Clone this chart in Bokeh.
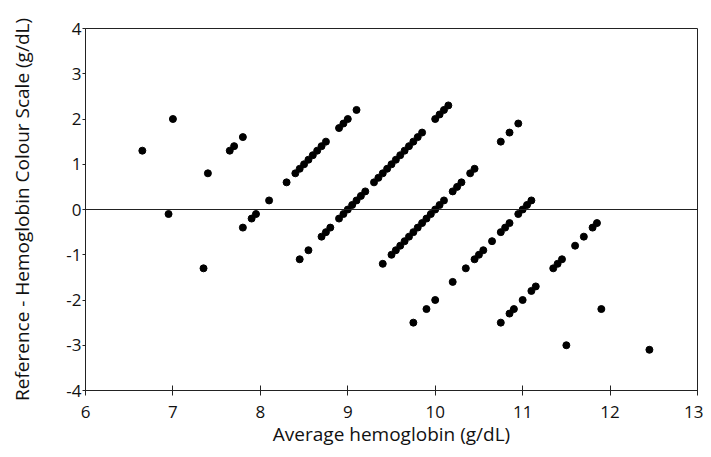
from bokeh.plotting import figure
from bokeh.models import Span, FixedTicker
from bokeh.embed import file_html
from bokeh.resources import INLINE

# Average hemoglobin (g/dL) and difference (Reference - HCS), grouped by HCS reading
avg_hcs6 = [6.65, 7.0]
diff_hcs6 = [1.3, 2.0]
avg_hcs7 = [6.95, 7.4, 7.65, 7.7, 7.8]
diff_hcs7 = [-0.1, 0.8, 1.3, 1.4, 1.6]
avg_hcs8 = [7.35, 7.8, 7.9, 7.95, 8.1, 8.3, 8.4, 8.45, 8.5, 8.55, 8.6, 8.65, 8.7, 8.75, 8.9, 8.95, 9.0, 9.1]
diff_hcs8 = [-1.3, -0.4, -0.2, -0.1, 0.2, 0.6, 0.8, 0.9, 1.0, 1.1, 1.2, 1.3, 1.4, 1.5, 1.8, 1.9, 2.0, 2.2]
avg_hcs9 = [8.45, 8.55, 8.7, 8.75, 8.8, 8.9, 8.95, 9.0, 9.05, 9.1, 9.15, 9.2, 9.3, 9.35, 9.4, 9.45,
            9.5, 9.55, 9.6, 9.65, 9.7, 9.75, 9.8, 9.85, 10.0, 10.05, 10.1, 10.15]
diff_hcs9 = [-1.1, -0.9, -0.6, -0.5, -0.4, -0.2, -0.1, 0.0, 0.1, 0.2, 0.3, 0.4, 0.6, 0.7, 0.8, 0.9,
             1.0, 1.1, 1.2, 1.3, 1.4, 1.5, 1.6, 1.7, 2.0, 2.1, 2.2, 2.3]
avg_hcs10 = [9.4, 9.5, 9.55, 9.6, 9.65, 9.7, 9.75, 9.8, 9.85, 9.9, 9.95, 10.0, 10.05, 10.1, 10.2,
             10.25, 10.3, 10.4, 10.45, 10.75, 10.85, 10.95]
diff_hcs10 = [-1.2, -1.0, -0.9, -0.8, -0.7, -0.6, -0.5, -0.4, -0.3, -0.2, -0.1, 0.0, 0.1, 0.2, 0.4,
              0.5, 0.6, 0.8, 0.9, 1.5, 1.7, 1.9]
avg_hcs11 = [9.75, 9.9, 10.0, 10.2, 10.35, 10.45, 10.5, 10.55, 10.65, 10.75, 10.8, 10.85, 10.95, 11.0, 11.05, 11.1]
diff_hcs11 = [-2.5, -2.2, -2.0, -1.6, -1.3, -1.1, -1.0, -0.9, -0.7, -0.5, -0.4, -0.3, -0.1, 0.0, 0.1, 0.2]
avg_hcs12 = [10.75, 10.85, 10.9, 11.0, 11.1, 11.15, 11.35, 11.4, 11.45, 11.6, 11.7, 11.8, 11.85]
diff_hcs12 = [-2.5, -2.3, -2.2, -2.0, -1.8, -1.7, -1.3, -1.2, -1.1, -0.8, -0.6, -0.4, -0.3]
avg_hcs13 = [11.5, 11.9]
diff_hcs13 = [-3.0, -2.2]
avg_hcs14 = [12.45]
diff_hcs14 = [-3.1]

x_ticks = [6, 7, 8, 9, 10, 11, 12, 13]
y_ticks = [-4, -3, -2, -1, 0, 1, 2, 3, 4]
y_tick_labels = ["-4", "-3", "-2", "-1", "0", "1", "2", "3", "4"]

avg_all = avg_hcs6 + avg_hcs7 + avg_hcs8 + avg_hcs9 + avg_hcs10 + avg_hcs11 + avg_hcs12 + avg_hcs13 + avg_hcs14
diff_all = diff_hcs6 + diff_hcs7 + diff_hcs8 + diff_hcs9 + diff_hcs10 + diff_hcs11 + diff_hcs12 + diff_hcs13 + diff_hcs14

FONT = "Open Sans"
AX = "#222222"
TXT = "#111111"

p = figure(width=703, height=449, x_range=(6, 13), y_range=(-4, 4),
           output_backend="svg", toolbar_location=None,
           min_border_left=85, min_border_right=6, min_border_top=28, min_border_bottom=59)

p.scatter(avg_all, diff_all, size=7, color="black", marker="circle")

p.add_layout(Span(location=0, dimension="width", line_color=AX, line_width=1))

p.xgrid.visible = False
p.ygrid.visible = False
p.outline_line_color = AX
p.outline_line_width = 1
p.background_fill_color = "white"
p.border_fill_color = "white"

p.xaxis.ticker = FixedTicker(ticks=x_ticks)
p.yaxis.ticker = FixedTicker(ticks=y_ticks)
p.yaxis.major_label_overrides = {t: lab for t, lab in zip(y_ticks, y_tick_labels)}
p.xaxis.minor_tick_line_color = None
p.yaxis.minor_tick_line_color = None

p.xaxis.major_tick_in = 5
p.xaxis.major_tick_out = 5
p.yaxis.major_tick_in = 0
p.yaxis.major_tick_out = 3

for ax in (p.xaxis, p.yaxis):
    ax.axis_line_color = AX
    ax.major_tick_line_color = AX
    ax.major_label_text_font = FONT
    ax.major_label_text_font_size = "17px"
    ax.major_label_text_color = TXT
    ax.axis_label_text_font = FONT
    ax.axis_label_text_font_size = "19px"
    ax.axis_label_text_font_style = "normal"
    ax.axis_label_text_color = TXT

p.xaxis.axis_label = "Average hemoglobin (g/dL)"
p.yaxis.axis_label = "Reference - Hemoglobin Colour Scale (g/dL)"
p.xaxis.major_label_standoff = 10
p.xaxis.axis_label_standoff = 0
p.yaxis.major_label_standoff = 1
p.yaxis.axis_label_standoff = 28

open("out.html", "w").write(file_html(p, INLINE))
